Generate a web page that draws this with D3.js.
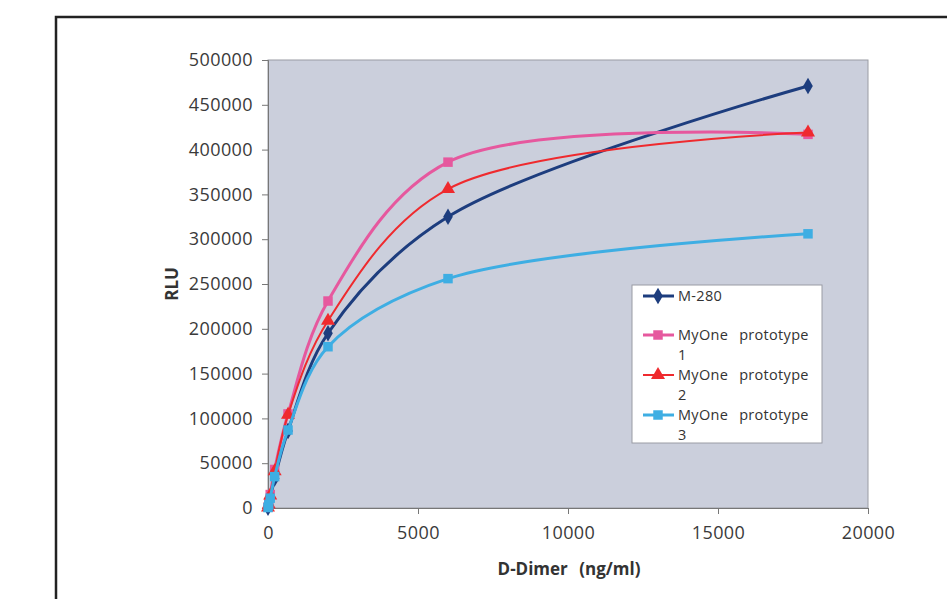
<!DOCTYPE html>
<html><head><meta charset="utf-8">
<script src="https://cdn.jsdelivr.net/npm/d3@7"></script>
<style>body{margin:0;background:#fff}svg{display:block}</style>
</head><body>
<svg id="c" width="947" height="599"></svg>
<script>
const concentrations = [0, 25, 74, 222, 667, 2000, 6000, 18000];
const m280   = [500, 3000, 10000, 33000, 86000, 195000, 325000, 471000];
const proto1 = [1000, 5000, 15000, 43000, 105000, 231000, 386000, 417000];
const proto2 = [500, 4000, 14000, 41000, 104000, 209000, 356000, 419000];
const proto3 = [500, 3500, 11000, 35000, 87000, 180000, 256000, 306000];
const seriesNames = ["M-280", "MyOne prototype 1", "MyOne prototype 2", "MyOne prototype 3"];
const xTicks = [0, 5000, 10000, 15000, 20000];
const yTicks = [0, 50000, 100000, 150000, 200000, 250000, 300000, 350000, 400000, 450000, 500000];

const svg = d3.select("#c");
const L = 268, R = 868, T = 60, B = 508;
const x = d3.scaleLinear().domain([0, 20000]).range([L, R]);
const y = d3.scaleLinear().domain([0, 500000]).range([B, T]);

// outer frame
svg.append("rect").attr("x", 56).attr("y", 17).attr("width", 1000).attr("height", 1000)
  .attr("fill", "none").attr("stroke", "#222").attr("stroke-width", 2.5);

// plot area
svg.append("rect").attr("x", L).attr("y", T).attr("width", R - L).attr("height", B - T)
  .attr("fill", "#cbcfdc").attr("stroke", "#9a9ca4").attr("stroke-width", 1);

const font = "'Open Sans', sans-serif";
const yAxis = svg.append("g").attr("transform", `translate(${L},0)`)
  .call(d3.axisLeft(y).tickValues(yTicks).tickFormat(d3.format("d")).tickSize(6).tickPadding(9));
const xAxis = svg.append("g").attr("transform", `translate(0,${B})`)
  .call(d3.axisBottom(x).tickValues(xTicks).tickFormat(d3.format("d")).tickSize(6).tickPadding(12));
[yAxis, xAxis].forEach(a => {
  a.select(".domain").attr("stroke", "#777");
  a.selectAll(".tick line").attr("stroke", "#777");
  a.selectAll("text").attr("font-family", font).attr("font-size", 18).attr("fill", "#3a3a3a")
    .attr("letter-spacing", 0.4);
});

svg.append("text").attr("transform", `translate(178,${(T + B) / 2}) rotate(-90)`)
  .attr("text-anchor", "middle").attr("font-family", font).attr("font-weight", "bold")
  .attr("font-size", 17).attr("fill", "#333").text("RLU");
svg.append("text").attr("x", 569).attr("y", 575).attr("text-anchor", "middle")
  .attr("font-family", font).attr("font-weight", "bold").attr("font-size", 17)
  .attr("fill", "#333").attr("word-spacing", 7).text("D-Dimer (ng/ml)");

const series = [
  {name: seriesNames[0], vals: m280, color: "#1d3d7e", w: 3, sym: d3.symbolDiamond, size: 80},
  {name: seriesNames[1], vals: proto1, color: "#e6589e", w: 3, sym: d3.symbolSquare, size: 90},
  {name: seriesNames[2], vals: proto2, color: "#ef2a2e", w: 2, sym: d3.symbolTriangle, size: 85},
  {name: seriesNames[3], vals: proto3, color: "#3eaee3", w: 3, sym: d3.symbolSquare, size: 90}
];
const line = d3.line().x(d => x(d[0])).y(d => y(d[1])).curve(d3.curveCatmullRom.alpha(0.5));

series.forEach(s => {
  const pts = concentrations.map((c, i) => [c, s.vals[i]]);
  svg.append("path").datum(pts).attr("d", line).attr("fill", "none")
    .attr("stroke", s.color).attr("stroke-width", s.w);
  svg.append("g").selectAll("path").data(pts).join("path")
    .attr("transform", d => `translate(${x(d[0])},${y(d[1])})`)
    .attr("d", d3.symbol().type(s.sym).size(s.size)).attr("fill", s.color);
});

// legend
const lg = svg.append("g");
lg.append("rect").attr("x", 632).attr("y", 285).attr("width", 190).attr("height", 158)
  .attr("fill", "#fff").attr("stroke", "#9a9ca4");
const rows = [296, 335, 375, 415];
series.forEach((s, i) => {
  const yy = rows[i];
  lg.append("line").attr("x1", 643).attr("x2", 674).attr("y1", yy).attr("y2", yy)
    .attr("stroke", s.color).attr("stroke-width", s.w);
  lg.append("path").attr("transform", `translate(658,${yy})`)
    .attr("d", d3.symbol().type(s.sym).size(s.size)).attr("fill", s.color);
  const parts = s.name.match(/^(MyOne prototype) (\d)$/);
  const lines = parts ? [parts[1], parts[2]] : [s.name];
  lines.forEach((txt, j) => {
    lg.append("text").attr("x", 678).attr("y", yy + 5 + j * 20)
      .attr("font-family", font).attr("font-size", 14.5).attr("fill", "#333")
      .attr("word-spacing", 7).attr("letter-spacing", 0.3).text(txt);
  });
});
</script>
</body></html>
